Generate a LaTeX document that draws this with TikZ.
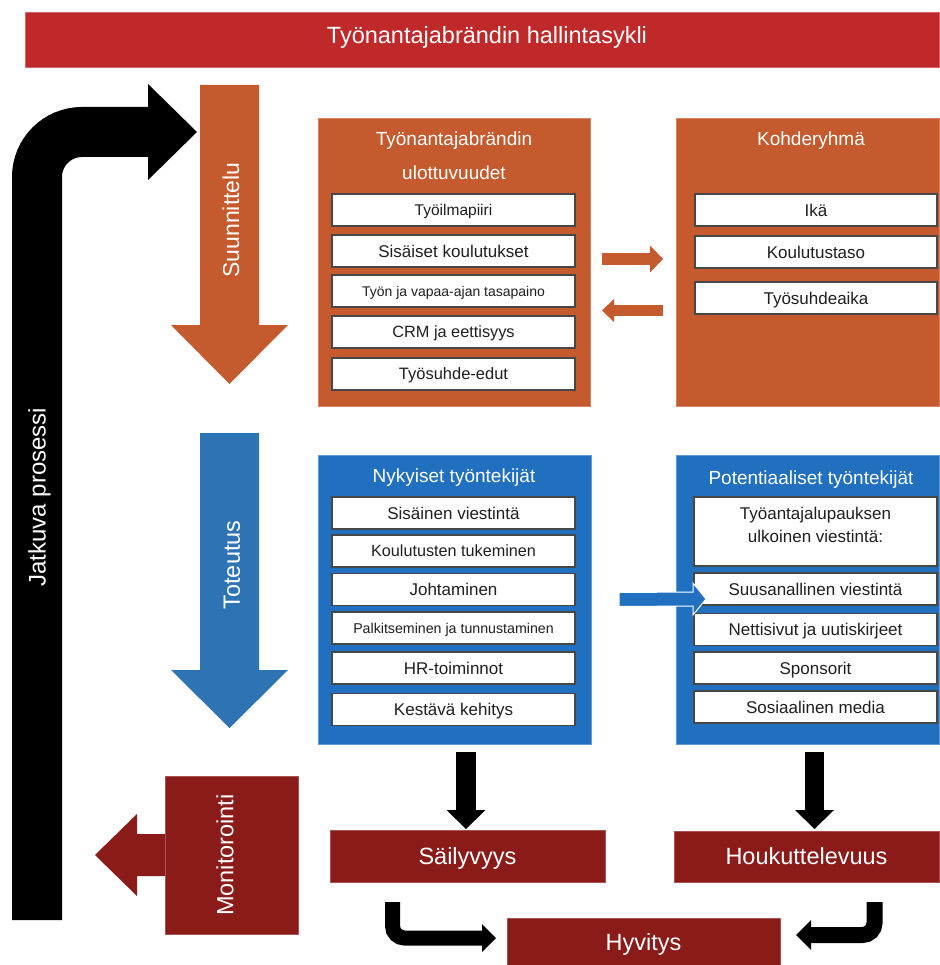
\documentclass[tikz,border=0pt]{standalone}
\usepackage{fontspec}
\setmainfont{Liberation Sans}
\usetikzlibrary{arrows.meta,calc}
\definecolor{titlered}{HTML}{C0292A}
\definecolor{orng}{HTML}{C45A2E}
\definecolor{bluebox}{HTML}{2170C0}
\definecolor{bluearr}{HTML}{2E74B5}
\definecolor{darkred}{HTML}{8A1B19}
\begin{document}
\begin{tikzpicture}[x=1pt,y=-1pt,
  every node/.style={inner sep=0pt,outer sep=0pt},
  txt/.code={\pgfmathsetlengthmacro\myTH{0.8*#1pt}\pgfmathsetlengthmacro\myTD{0.084*#1pt}\tikzset{font=\fontsize{#1}{#1}\selectfont,text height=\myTH,text depth=\myTD}},
  panel/.style={rectangle, line width=0.8pt},
  ibox/.style={rectangle, draw=black!72, line width=1.2pt, fill=white, minimum height=32pt, text=black!88},
  obox/.style={ibox, minimum width=243pt},
  wt/.style={text=white},
  redbox/.style={panel, fill=darkred, draw=darkred!75!white, text=white, txt=23.5}
]
\useasboundingbox (0,0) rectangle (939,965);

% title bar
\node[panel, fill=titlered, draw=titlered!70!white, minimum width=914pt, minimum height=55pt] (title) at (482,39.5) {};
\node[wt, txt=23.5] (titleT) at (487,35) {Työnantajabrändin hallintasykli};

% continuous process arrow
\coordinate (jA) at (37,920);
\coordinate (jB) at (197,132);
\draw[line width=50pt, rounded corners=45pt, -{Triangle[width=96pt,length=49pt,line width=0pt]}] (jA) |- (jB);
\node[wt, txt=24, rotate=90] (jat) at (37,497) {Jatkuva prosessi};

% Suunnittelu arrow
\fill[orng] (200,85) -- (259,85) -- (259,325) -- (288,325) -- (229.5,384) -- (171,325) -- (200,325) -- cycle;
\node[wt, txt=23, rotate=90] (suun) at (231,220) {Suunnittelu};

% Toteutus arrow
\fill[bluearr] (200,433) -- (259,433) -- (259,670) -- (288,670) -- (229.5,728) -- (171,670) -- (200,670) -- cycle;
\node[wt, txt=23.5, rotate=90] (tot) at (231.5,565) {Toteutus};

% Monitorointi
\fill[darkred] (165,834) -- (137,834) -- (137,814) -- (95,855) -- (137,896) -- (137,876) -- (165,876) -- cycle;
\node[panel, fill=darkred, draw=darkred!75!white, minimum width=133pt, minimum height=158pt] (mon) at (231.5,855) {};
\node[wt, txt=23.5, rotate=90] (monT) at (225,855) {Monitorointi};

% orange panels
\node[panel, fill=orng, draw=orng!75!white, minimum width=272pt, minimum height=288pt] (dim) at (454,262) {};
\node[wt, font=\fontsize{19}{34}\selectfont, align=center] (dimT) at (454,156) {Työnantajabrändin\\ulottuvuudet};
\node[obox, txt=15.5] (d1) at (453.5,210) {Työilmapiiri};
\node[obox, txt=17] (d2) at (453.5,251) {Sisäiset koulutukset};
\node[obox, txt=14] (d3) at (453.5,291) {Työn ja vapaa-ajan tasapaino};
\node[obox, txt=16.3] (d4) at (453.5,332) {CRM ja eettisyys};
\node[obox, txt=16.5] (d5) at (453.5,374) {Työsuhde-edut};

\node[panel, fill=orng, draw=orng!75!white, minimum width=263pt, minimum height=288pt] (koh) at (807.5,262) {};
\node[wt, txt=19] (kohT) at (811,138.5) {Kohderyhmä};
\node[ibox, minimum width=242pt, txt=17] (k1) at (816,210) {Ikä};
\node[ibox, minimum width=242pt, txt=17] (k2) at (816,252) {Koulutustaso};
\node[ibox, minimum width=242pt, txt=17] (k3) at (816,298) {Työsuhdeaika};

\draw[orng, line width=12pt, -{Triangle[width=27pt,length=13pt,line width=0pt]}] ($(dim.east)+(12,-3)$) -- ($(koh.west)+(-13,-3)$);
\draw[orng, line width=11pt, -{Triangle[width=23pt,length=12pt,line width=0pt]}] ($(koh.west)+(-13,48.5)$) -- ($(dim.east)+(12,48.5)$);

% blue panels
\node[panel, fill=bluebox, draw=bluebox!70!white, minimum width=273pt, minimum height=289pt] (nyk) at (454.5,599.5) {};
\node[wt, txt=19] (nykT) at (454,475.5) {Nykyiset työntekijät};
\node[obox, txt=17] (n1) at (453.5,513) {Sisäinen viestintä};
\node[obox, txt=16.2] (n2) at (453.5,551) {Koulutusten tukeminen};
\node[obox, txt=17] (n3) at (453.5,589.5) {Johtaminen};
\node[obox, txt=14.2] (n4) at (453.5,628) {Palkitseminen ja tunnustaminen};
\node[obox, txt=17] (n5) at (453.5,668) {HR-toiminnot};
\node[obox, txt=17] (n6) at (453.5,709.5) {Kestävä kehitys};

\node[panel, fill=bluebox, draw=bluebox!70!white, minimum width=263pt, minimum height=289pt] (pot) at (807.5,599.5) {};
\node[wt, txt=19] (potT) at (811,477.5) {Potentiaaliset työntekijät};
\node[ibox, minimum width=243pt, minimum height=69pt] (p0) at (815.5,531.5) {};
\node[font=\fontsize{17}{23}\selectfont, align=center, text=black!88] (p0T) at (815.5,525.3) {Työantajalupauksen\\ulkoinen viestintä:};
\node[obox, txt=17] (p1) at (815.5,589) {Suusanallinen viestintä};
\node[obox, txt=17] (p2) at (815.5,629.5) {Nettisivut ja uutiskirjeet};
\node[obox, txt=17] (p3) at (815.5,668) {Sponsorit};
\node[obox, txt=17] (p4) at (815.5,707) {Sosiaalinen media};

% blue arrow into word-of-mouth box
\coordinate (bA) at ($(nyk.east)+(28,0)$);
\coordinate (bB) at ($(p1.west)+(12,10)$);
\filldraw[fill=bluebox, draw=white, line width=1pt]
  ($(bA)+(0,-7)$) -- ($(bB)+(-13,-7)$) -- ($(bB)+(-13,-16)$) -- (bB) -- ($(bB)+(-13,16)$) -- ($(bB)+(-13,7)$) -- ($(bA)+(0,7)$) -- cycle;

% result boxes
\node[redbox, minimum width=275pt, minimum height=52pt] (sail) at (467.5,856) {Säilyvyys};
\node[redbox, minimum width=265pt, minimum height=51pt] (houk) at (806.5,856.5) {Houkuttelevuus};
\node[redbox, minimum width=273pt, minimum height=48pt] (hyv) at (643.5,942) {Hyvitys};

% black connectors
\draw[line width=20pt, -{Triangle[width=39pt,length=19pt,line width=0pt]}] ($(sail.north)+(-1.5,-78)$) -- ($(sail.north)+(-1.5,-1)$);
\draw[line width=19pt, -{Triangle[width=39pt,length=19pt,line width=0pt]}] ($(houk.north)+(8,-79)$) -- ($(houk.north)+(8,-2)$);
\draw[line width=15pt, rounded corners=12pt, -{Triangle[width=28pt,length=14pt,line width=0pt]}] ($(sail.south)+(-75,20)$) |- ($(hyv.west)+(-11,-4)$);
\draw[line width=16pt, rounded corners=12pt, -{Triangle[width=30pt,length=15pt,line width=0pt]}] ($(houk.south)+(68,20)$) |- ($(hyv.east)+(16,-7)$);
\end{tikzpicture}
\end{document}
